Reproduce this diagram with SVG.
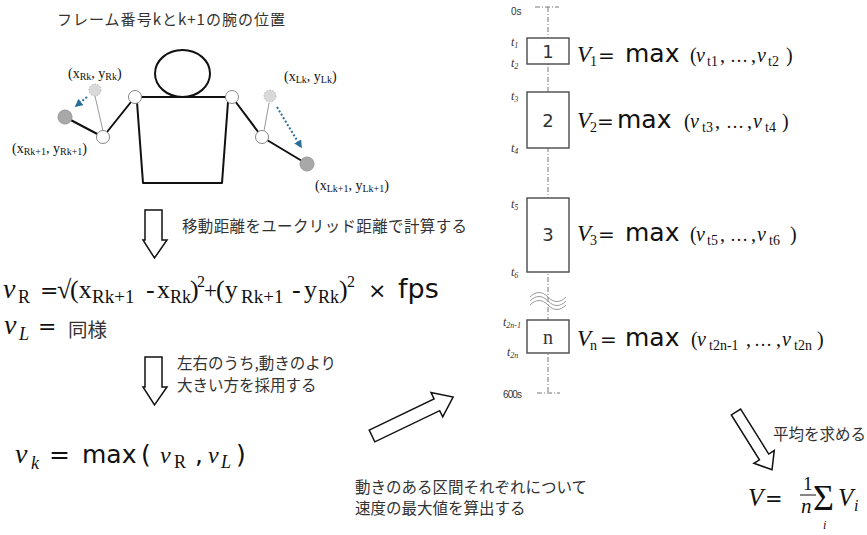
<svg xmlns="http://www.w3.org/2000/svg" width="867" height="535" viewBox="0 0 867 535">
  <style>
    .jp { font-family: "Noto Sans CJK JP", "Noto Sans", sans-serif; fill: #333; }
    .serif { font-family: "Liberation Serif", "Times New Roman", serif; fill: #111; }
    .it { font-style: italic; }
    .sans { font-family: "DejaVu Sans", "Noto Sans", sans-serif; }
    .body { fill: none; stroke: #111; stroke-width: 2; stroke-linecap: round; stroke-linejoin: round; }
    .thin { fill: none; stroke: #999; stroke-width: 1; }
    .joint { fill: #fff; stroke: #888; stroke-width: 1; }
    .hand { fill: #a8a8a8; stroke: #999; stroke-width: 1; }
    .ghost { fill: #d9d9d9; stroke: #b8b8b8; stroke-width: 1; stroke-dasharray: 1.5 1.5; }
    .move { fill: none; stroke: #2a6f9b; stroke-width: 2; stroke-dasharray: 2 2; }
    .hollow { fill: #fff; stroke: #111; stroke-width: 1.5; stroke-linejoin: miter; }
    .axis { fill: none; stroke: #777; stroke-width: 1; stroke-dasharray: 5 2 1 2; }
    .seg { fill: #fff; stroke: #555; stroke-width: 1.5; }
    .tick { font-family: "Liberation Serif", serif; font-style: italic; fill: #333; }
    .small { font-family: "Liberation Sans", Arial, sans-serif; fill: #333; }
  </style>
  <defs>
    <marker id="blueHead" viewBox="0 0 10 10" refX="8" refY="5" markerWidth="4" markerHeight="4" orient="auto">
      <path d="M0,0 L10,5 L0,10 z" fill="#2a6f9b"/>
    </marker>
  </defs>

  <!-- title above the stick figure -->
  <text id="title" class="jp" x="57" y="25" font-size="15" textLength="228">フレーム番号kとk+1の腕の位置</text>

  <!-- stick figure with both arm positions -->
  <g id="figure">
    <ellipse cx="182.5" cy="73.5" rx="27.5" ry="23.5" fill="none" stroke="#111" stroke-width="2"/>
    <path class="body" d="M135,97 L232,97 M137,102 L143,183 L222,183 L228,102"/>
    <!-- right arm (viewer's left) -->
    <path class="thin" d="M103,131 L95,96"/>
    <path class="body" d="M135,97 L103,137 L65,117"/>
    <circle class="ghost" cx="95" cy="90" r="6"/>
    <circle class="hand" cx="65" cy="117" r="7"/>
    <circle class="joint" cx="103" cy="137" r="6.5"/>
    <circle class="joint" cx="135" cy="97" r="6.5"/>
    <path class="move" d="M87,97 L76,106" marker-end="url(#blueHead)"/>
    <!-- left arm (viewer's right) -->
    <path class="thin" d="M264,131 L269,103"/>
    <path class="body" d="M232,97 L262,137 L307,164"/>
    <circle class="ghost" cx="270" cy="96" r="6"/>
    <circle class="hand" cx="307" cy="164" r="7"/>
    <circle class="joint" cx="262" cy="137" r="6.5"/>
    <circle class="joint" cx="232" cy="97" r="6.5"/>
    <path class="move" d="M277,107 L301,147" marker-end="url(#blueHead)"/>
  </g>

  <!-- coordinate labels -->
  <g id="coords" class="serif" font-size="14">
    <text x="68" y="78">(x<tspan font-size="10" dy="2">Rk</tspan><tspan dy="-2">, y</tspan><tspan font-size="10" dy="2">Rk</tspan><tspan dy="-2">)</tspan></text>
    <text x="284" y="81">(x<tspan font-size="10" dy="2">Lk</tspan><tspan dy="-2">, y</tspan><tspan font-size="10" dy="2">Lk</tspan><tspan dy="-2">)</tspan></text>
    <text x="12" y="153">(x<tspan font-size="10" dy="2">Rk+1</tspan><tspan dy="-2">, y</tspan><tspan font-size="10" dy="2">Rk+1</tspan><tspan dy="-2">)</tspan></text>
    <text x="315" y="190">(x<tspan font-size="10" dy="2">Lk+1</tspan><tspan dy="-2">, y</tspan><tspan font-size="10" dy="2">Lk+1</tspan><tspan dy="-2">)</tspan></text>
  </g>

  <!-- hollow flow arrows -->
  <g id="connectors">
    <polygon class="hollow" points="145,210 162,210 162,240 167,240 154.5,258 143,240 145,240"/>
    <polygon class="hollow" points="145,357 162,357 162,387 167,387 154.5,405 143,387 145,387"/>
    <polygon class="hollow" transform="translate(372,436) rotate(-25.7)" points="0,-6.5 72,-6.5 72,-13.5 90,0 72,13.5 72,6.5 0,6.5"/>
    <polygon class="hollow" transform="translate(736,412) rotate(58)" points="0,-5.5 53,-5.5 53,-12 68,0 53,12 53,5.5 0,5.5"/>
  </g>

  <!-- step captions -->
  <g id="captions" class="jp" font-size="15.5">
    <text x="182" y="232" textLength="285">移動距離をユークリッド距離で計算する</text>
    <text x="177" y="369">左右のうち,動きのより</text>
    <text x="177" y="391">大きい方を採用する</text>
    <text x="355" y="493">動きのある区間それぞれについて</text>
    <text x="355" y="514">速度の最大値を算出する</text>
    <text x="773" y="440">平均を求める</text>
  </g>

  <!-- speed of the right wrist -->
  <g id="eq-vR">
    <text class="serif" font-size="26"><tspan class="it" x="3" y="298" font-size="28">v</tspan><tspan x="18" y="303" font-size="18">R</tspan><tspan class="sans" x="40" y="298" font-size="22">=</tspan><tspan x="57" y="298">√</tspan><tspan x="70" y="298">(x</tspan><tspan x="92" y="303" font-size="19">Rk+1</tspan><tspan x="146" y="298">-</tspan><tspan x="157" y="298">x</tspan><tspan x="170" y="303" font-size="18">Rk</tspan><tspan x="190" y="298">)</tspan><tspan x="197" y="287" font-size="16">2</tspan><tspan x="204" y="298" font-size="23">+</tspan><tspan x="216" y="298">(y</tspan><tspan x="241" y="303" font-size="19">Rk+1</tspan><tspan x="292" y="298">-</tspan><tspan x="304" y="298">y</tspan><tspan x="318" y="303" font-size="18">Rk</tspan><tspan x="339" y="298">)</tspan><tspan x="347" y="287" font-size="16">2</tspan><tspan class="sans" x="368" y="298" font-size="22">×</tspan><tspan class="sans" x="398" y="298" font-size="27">fps</tspan></text>
  </g>

  <!-- left wrist: same formula -->
  <g id="eq-vL">
    <text class="serif" font-size="26"><tspan class="it" x="4" y="334" font-size="28">v</tspan><tspan class="it" x="19" y="340" font-size="18">L</tspan><tspan class="sans" x="38" y="334" font-size="22">=</tspan></text>
    <text class="jp" x="68" y="337" font-size="19.5" fill="#111">同様</text>
  </g>

  <!-- per-frame speed -->
  <g id="eq-vk">
    <text class="serif" font-size="27"><tspan class="it" x="15" y="463" font-size="28">v</tspan><tspan class="it" x="31" y="469" font-size="18">k</tspan><tspan class="sans" x="49" y="463" font-size="25">=</tspan><tspan class="sans" x="82" y="463" font-size="25">max</tspan><tspan class="sans" x="141" y="463" font-size="25">(</tspan><tspan class="it" x="160" y="463" font-size="24">v</tspan><tspan x="174" y="468" font-size="18">R</tspan><tspan class="sans" x="195" y="463" font-size="25">,</tspan><tspan class="it" x="208" y="463" font-size="24">v</tspan><tspan class="it" x="221" y="468" font-size="18">L</tspan><tspan class="sans" x="236" y="463" font-size="25">)</tspan></text>
  </g>

  <!-- time axis from 0s to 600s -->
  <g id="timeline">
    <path class="axis" d="M548,7 L548,393 M535,7 L559,7 M537,393 L560,393"/>
    <text class="small" x="511" y="15" font-size="10">0s</text>
    <text class="small" x="503" y="398" font-size="10" textLength="19">600s</text>
    <path d="M530,297 c6,-6 12,-6 18,0 s12,6 18,0 M530,301 c6,-6 12,-6 18,0 s12,6 18,0 M530,305 c6,-6 12,-6 18,0 s12,6 18,0" fill="none" stroke="#999" stroke-width="1"/>
    <g class="tick" font-size="12">
      <text x="511" y="46">t<tspan font-size="8" dy="2">1</tspan></text>
      <text x="511" y="67">t<tspan font-size="8" dy="2">2</tspan></text>
      <text x="511" y="100">t<tspan font-size="8" dy="2">3</tspan></text>
      <text x="511" y="152">t<tspan font-size="8" dy="2">4</tspan></text>
      <text x="511" y="208">t<tspan font-size="8" dy="2">5</tspan></text>
      <text x="511" y="276">t<tspan font-size="8" dy="2">6</tspan></text>
      <text x="503" y="326">t<tspan font-size="8" dy="2">2n-1</tspan></text>
      <text x="507" y="356">t<tspan font-size="8" dy="2">2n</tspan></text>
    </g>
  </g>

  <!-- motion intervals -->
  <g id="seg1">
    <rect class="seg" x="527" y="38" width="42" height="26"/>
    <text class="sans" x="548" y="58" font-size="18" text-anchor="middle" fill="#333">1</text>
  </g>
  <g id="seg2">
    <rect class="seg" x="527" y="92" width="42" height="56"/>
    <text class="sans" x="548" y="127" font-size="18" text-anchor="middle" fill="#333">2</text>
  </g>
  <g id="seg3">
    <rect class="seg" x="527" y="198" width="42" height="74"/>
    <text class="sans" x="548" y="241" font-size="18" text-anchor="middle" fill="#333">3</text>
  </g>
  <g id="segn">
    <rect class="seg" x="527" y="320" width="42" height="33"/>
    <text class="serif" x="548" y="344" font-size="20" text-anchor="middle" style="fill:#333">n</text>
  </g>

  <!-- maximum speed of each interval -->
  <g id="eq-V1">
    <text class="serif" font-size="20"><tspan class="it" x="577" y="62" font-size="23">V</tspan><tspan x="590" y="66" font-size="14">1</tspan><tspan class="sans" x="598" y="62" font-size="20">=</tspan><tspan class="sans" x="625" y="62" font-size="25">max</tspan><tspan x="690" y="62">(</tspan><tspan class="it" x="696" y="62">v</tspan><tspan x="707" y="66" font-size="14">t1</tspan><tspan x="720" y="62">,</tspan><tspan x="730" y="62" font-size="18">…</tspan><tspan x="751" y="62">,</tspan><tspan class="it" x="757" y="62">v</tspan><tspan x="768" y="66" font-size="14">t2</tspan><tspan x="786" y="62">)</tspan></text>
  </g>
  <g id="eq-V2">
    <text class="serif" font-size="20"><tspan class="it" x="577" y="128" font-size="23">V</tspan><tspan x="590" y="132" font-size="14">2</tspan><tspan class="sans" x="597" y="128" font-size="20">=</tspan><tspan class="sans" x="617" y="128" font-size="25">max</tspan><tspan x="684" y="128">(</tspan><tspan class="it" x="690" y="128">v</tspan><tspan x="702" y="132" font-size="14">t3</tspan><tspan x="715" y="128">,</tspan><tspan x="726" y="128" font-size="18">…</tspan><tspan x="747" y="128">,</tspan><tspan class="it" x="753" y="128">v</tspan><tspan x="765" y="132" font-size="14">t4</tspan><tspan x="782" y="128">)</tspan></text>
  </g>
  <g id="eq-V3">
    <text class="serif" font-size="20"><tspan class="it" x="577" y="241" font-size="23">V</tspan><tspan x="590" y="245" font-size="14">3</tspan><tspan class="sans" x="598" y="241" font-size="20">=</tspan><tspan class="sans" x="625" y="241" font-size="25">max</tspan><tspan x="690" y="241">(</tspan><tspan class="it" x="696" y="241">v</tspan><tspan x="707" y="245" font-size="14">t5</tspan><tspan x="720" y="241">,</tspan><tspan x="730" y="241" font-size="18">…</tspan><tspan x="751" y="241">,</tspan><tspan class="it" x="757" y="241">v</tspan><tspan x="769" y="245" font-size="14">t6</tspan><tspan x="790" y="241">)</tspan></text>
  </g>
  <g id="eq-Vn">
    <text class="serif" font-size="20"><tspan class="it" x="577" y="346" font-size="23">V</tspan><tspan x="590" y="350" font-size="14">n</tspan><tspan class="sans" x="600" y="346" font-size="20">=</tspan><tspan class="sans" x="625" y="346" font-size="25">max</tspan><tspan x="691" y="346">(</tspan><tspan class="it" x="697" y="346">v</tspan><tspan x="709" y="350" font-size="14">t2n-1</tspan><tspan x="746" y="346">,</tspan><tspan x="754" y="346" font-size="18">…</tspan><tspan x="776" y="346">,</tspan><tspan class="it" x="782" y="346">v</tspan><tspan x="794" y="350" font-size="14">t2n</tspan><tspan x="817" y="346">)</tspan></text>
  </g>

  <!-- overall average -->
  <g id="eq-mean">
    <text class="serif" font-size="25"><tspan class="it" x="748" y="506">V</tspan><tspan class="sans" x="765" y="506" font-size="21">=</tspan><tspan x="803" y="490" font-size="19">1</tspan><tspan class="it" x="801" y="513" font-size="21">n</tspan><tspan x="813" y="510" font-size="36">Σ</tspan><tspan class="it" x="838" y="506">V</tspan><tspan class="it" x="854" y="511" font-size="16">i</tspan></text>
    <text class="serif it" x="823" y="529" font-size="12">i</text>
    <line x1="800" y1="495" x2="816" y2="495" stroke="#111" stroke-width="1"/>
  </g>
</svg>
